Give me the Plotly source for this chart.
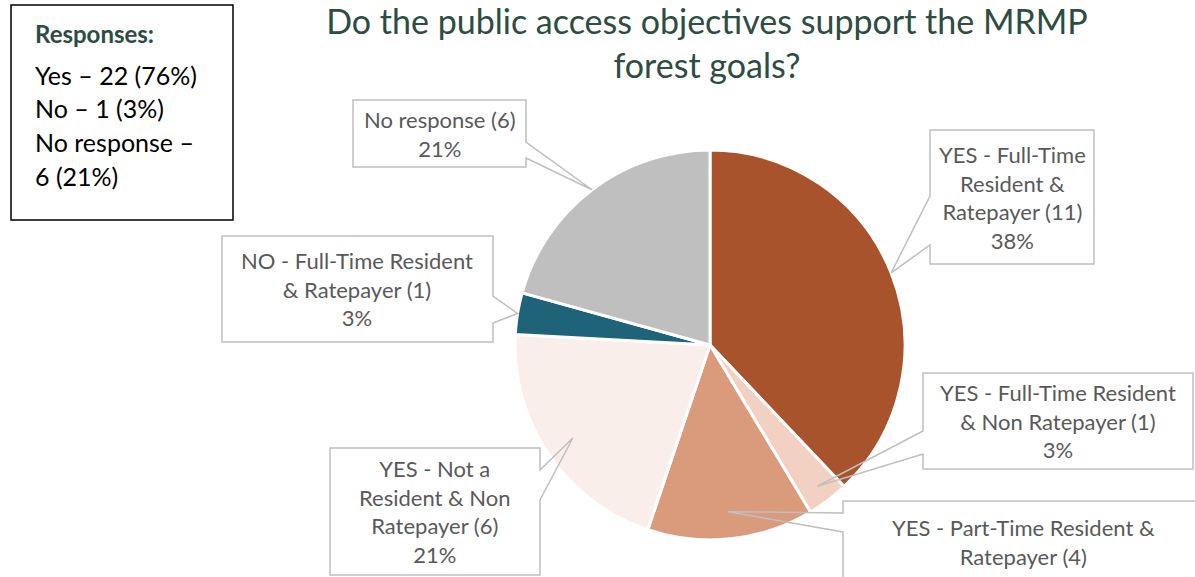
import math
import textwrap
import plotly.graph_objects as go

# ---------------- data ----------------
categories = [
    "YES - Full-Time Resident & Ratepayer",
    "YES - Full-Time Resident & Non Ratepayer",
    "YES - Part-Time Resident & Ratepayer",
    "YES - Not a Resident & Non Ratepayer",
    "NO - Full-Time Resident & Ratepayer",
    "No response",
]
counts = [11, 1, 4, 6, 1, 6]
answer_group = ["Yes", "Yes", "Yes", "Yes", "No", "No response"]
title_text = "Do the public access objectives support the MRMP<br>forest goals?"

# ---------------- styles / layout ----------------
W, H = 1195, 577
colors = ["#A9532D", "#F2D1C3", "#DA9A7C", "#F9EEE9", "#1F6378", "#BFBFBF"]
green = "#2D4C42"
label_color = "#595959"
FONT = "Lato"

# pie geometry in pixels
CX, CY, R = 710, 345, 195

# callout boxes: (x0, y0, x1, y1), side of wedge, wedge base (ya, yb), tip radial fraction, wrap width
callouts = [
    dict(box=(930, 130, 1094, 264), side="left", base=(196, 245), frac=1.0, wrap=15),
    dict(box=(923, 373, 1193, 469), side="left", base=(431, 454), frac=0.91, wrap=24),
    dict(box=(843, 501, 1203, 605), side="left", base=(513, 532), frac=0.86, wrap=26),
    dict(box=(330, 448, 540, 575), side="right", base=(470, 500), frac=0.85, wrap=14),
    dict(box=(222, 236, 493, 342), side="right", base=(296, 323), frac=1.0, wrap=23),
    dict(box=(353, 100, 526, 167), side="right", base=(142, 158), frac=1.0, wrap=15),
]


def px(x):
    return x / W


def py(y):
    return 1 - y / H


total = sum(counts)

fig = go.Figure()
fig.add_trace(go.Pie(
    labels=categories,
    values=counts,
    sort=False,
    direction="clockwise",
    rotation=0,
    textinfo="none",
    hoverinfo="label+value+percent",
    marker=dict(colors=colors, line=dict(color="white", width=3)),
    domain=dict(x=[px(CX - R), px(CX + R)], y=[py(CY + R), py(CY - R)]),
    showlegend=False,
))

shapes = []
annotations = []

# slice mid-angles (clockwise from 12 o'clock)
cum = 0
for i, (cat, c) in enumerate(zip(categories, counts)):
    mid = (cum + c / 2) / total * 2 * math.pi
    cum += c
    spec = callouts[i]
    tx = CX + spec["frac"] * R * math.sin(mid)
    ty = CY - spec["frac"] * R * math.cos(mid)
    x0, y0, x1, y1 = spec["box"]
    ya, yb = spec["base"]
    if spec["side"] == "right":
        pts = [(x0, y0), (x1, y0), (x1, ya), (tx, ty), (x1, yb), (x1, y1), (x0, y1)]
    else:
        pts = [(x0, y0), (x1, y0), (x1, y1), (x0, y1), (x0, yb), (tx, ty), (x0, ya)]
    path = "M " + " L ".join(f"{px(a):.5f},{py(b):.5f}" for a, b in pts) + " Z"
    shapes.append(dict(type="path", path=path, xref="paper", yref="paper",
                       line=dict(color="#BFBFBF", width=1.5), fillcolor="rgba(0,0,0,0)",
                       layer="above"))
    pct = round(100 * c / total)
    lines = textwrap.wrap(f"{cat} ({c})", width=spec["wrap"], break_on_hyphens=False)
    lines.append(f"{pct}%")
    text = "<br>".join(lines)
    n = len(lines)
    line_h = 29
    if i == 2:
        yc = y0 + 26 + (n - 1) * line_h / 2
    else:
        yc = (y0 + y1) / 2
    annotations.append(dict(
        x=px((x0 + x1) / 2), y=py(yc), xref="paper", yref="paper",
        text=text, showarrow=False, xanchor="center", yanchor="middle",
        align="center", font=dict(family=FONT, size=22, color=label_color),
    ))

# summary box
yes_n = sum(c for c, g in zip(counts, answer_group) if g == "Yes")
no_n = sum(c for c, g in zip(counts, answer_group) if g == "No")
nr_n = sum(c for c, g in zip(counts, answer_group) if g == "No response")
summary_lines = [
    f"Yes \u2013 {yes_n} ({round(100 * yes_n / total)}%)",
    f"No \u2013 {no_n} ({round(100 * no_n / total)}%)",
    "No response \u2013",
    f"{nr_n} ({round(100 * nr_n / total)}%)",
]
shapes.append(dict(type="rect", xref="paper", yref="paper",
                   x0=px(11), x1=px(233), y0=py(5), y1=py(220),
                   line=dict(color="black", width=1.5), fillcolor="white", layer="above"))
annotations.append(dict(
    x=px(33), y=py(34), xref="paper", yref="paper", xanchor="left", yanchor="middle",
    text="<b>Responses:</b>", showarrow=False,
    font=dict(family=FONT, size=24, color=green)))
for k, s in enumerate(summary_lines):
    annotations.append(dict(
        x=px(33), y=py(75 + k * 33.5), xref="paper", yref="paper", xanchor="left",
        yanchor="middle", text=s, showarrow=False,
        font=dict(family=FONT, size=25, color="black")))

fig.update_layout(
    width=W, height=H,
    margin=dict(l=0, r=0, t=0, b=0),
    paper_bgcolor="white", plot_bgcolor="white",
    title=dict(text=title_text, x=px(707), xanchor="center", y=py(34), yanchor="middle",
               font=dict(family=FONT, size=34, color=green)),
    shapes=shapes,
    annotations=annotations,
)

fig.write_html("out.html")
